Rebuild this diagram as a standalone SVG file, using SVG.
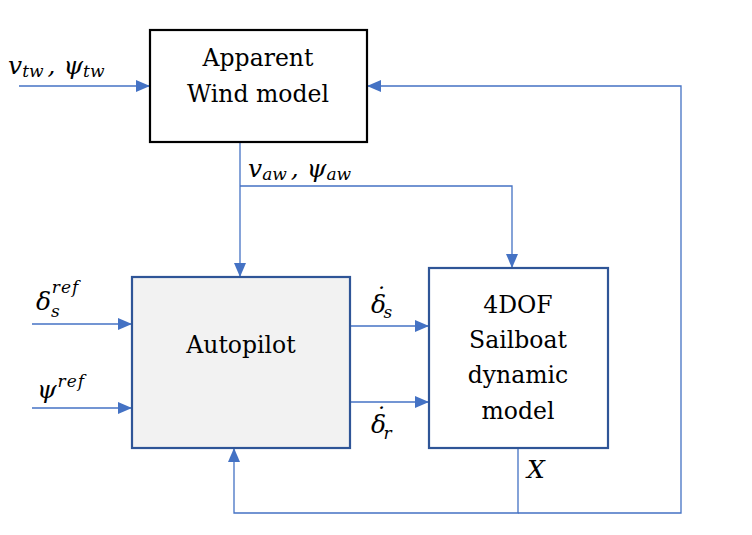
<svg xmlns="http://www.w3.org/2000/svg" width="752" height="535" viewBox="0 0 752 535">
<style>
.ln{fill:none;stroke:#4472c4;stroke-width:1.3}
.lbl{font-size:23.5px;fill:#000;text-anchor:middle}
.m{font-style:italic;font-size:25px;fill:#000}
.sub{font-size:17px}
</style>
<defs>
<marker id="ah" viewBox="0 0 14 12" refX="14" refY="6" markerWidth="14" markerHeight="12" markerUnits="userSpaceOnUse" orient="auto">
<path d="M0,0 L14,6 L0,12 Z" fill="#4472c4"/>
</marker>
</defs>
<rect width="752" height="535" fill="#fff"/>
<g id="connectors">
<line class="ln" x1="19" y1="86" x2="150" y2="86" marker-end="url(#ah)"/>
<polyline class="ln" points="518,448 518,513 234,513 234,448" marker-end="url(#ah)"/>
<polyline class="ln" points="518,513 681,513 681,86 367,86" marker-end="url(#ah)"/>
<line class="ln" x1="240" y1="142" x2="240" y2="277" marker-end="url(#ah)"/>
<polyline class="ln" points="240,186 512,186 512,268" marker-end="url(#ah)"/>
<line class="ln" x1="32" y1="324" x2="132" y2="324" marker-end="url(#ah)"/>
<line class="ln" x1="32" y1="408" x2="132" y2="408" marker-end="url(#ah)"/>
<line class="ln" x1="350" y1="326" x2="429" y2="326" marker-end="url(#ah)"/>
<line class="ln" x1="350" y1="402" x2="429" y2="402" marker-end="url(#ah)"/>
</g>
<g font-family="DejaVu Serif, serif">
<g id="wind">
<rect x="150" y="30" width="217" height="112" fill="#fff" stroke="#000" stroke-width="2.2"/>
<text class="lbl" x="258" y="66">Apparent</text>
<text class="lbl" x="258" y="102">Wind model</text>
</g>
<g id="autopilot">
<rect x="132" y="277" width="218" height="171" fill="#f2f2f2" stroke="#2f5597" stroke-width="2.2"/>
<text class="lbl" x="241" y="353">Autopilot</text>
</g>
<g id="dynamics">
<rect x="429" y="268" width="179" height="180" fill="#fff" stroke="#2f5597" stroke-width="2.2"/>
<text class="lbl" x="518" y="313">4DOF</text>
<text class="lbl" x="518" y="348">Sailboat</text>
<text class="lbl" x="518" y="383">dynamic</text>
<text class="lbl" x="518" y="419">model</text>
</g>
<g id="labels">
<text class="m" x="8" y="74">v<tspan class="sub" dy="3">tw</tspan><tspan dx="4" dy="-3">,</tspan><tspan dx="8">ψ</tspan><tspan class="sub" dy="3">tw</tspan></text>
<text class="m" x="248" y="177">v<tspan class="sub" dy="3">aw</tspan><tspan dx="4" dy="-3">,</tspan><tspan dx="8">ψ</tspan><tspan class="sub" dy="3">aw</tspan></text>
<text class="m" x="36" y="310">δ<tspan class="sub" dy="7">s</tspan><tspan class="sub" dx="-8" dy="-24" letter-spacing="1">ref</tspan></text>
<text class="m" x="37" y="398">ψ<tspan class="sub" dx="1" dy="-11" letter-spacing="1">ref</tspan></text>
<text class="m" x="371" y="313">δ<tspan dx="-13" dy="-8">˙</tspan><tspan class="sub" dx="-2" dy="13">s</tspan></text>
<text class="m" x="371" y="433">δ<tspan dx="-13" dy="-8">˙</tspan><tspan class="sub" dx="-2" dy="14">r</tspan></text>
<text class="m" x="527" y="478">X</text>
</g>
</g>
</svg>
